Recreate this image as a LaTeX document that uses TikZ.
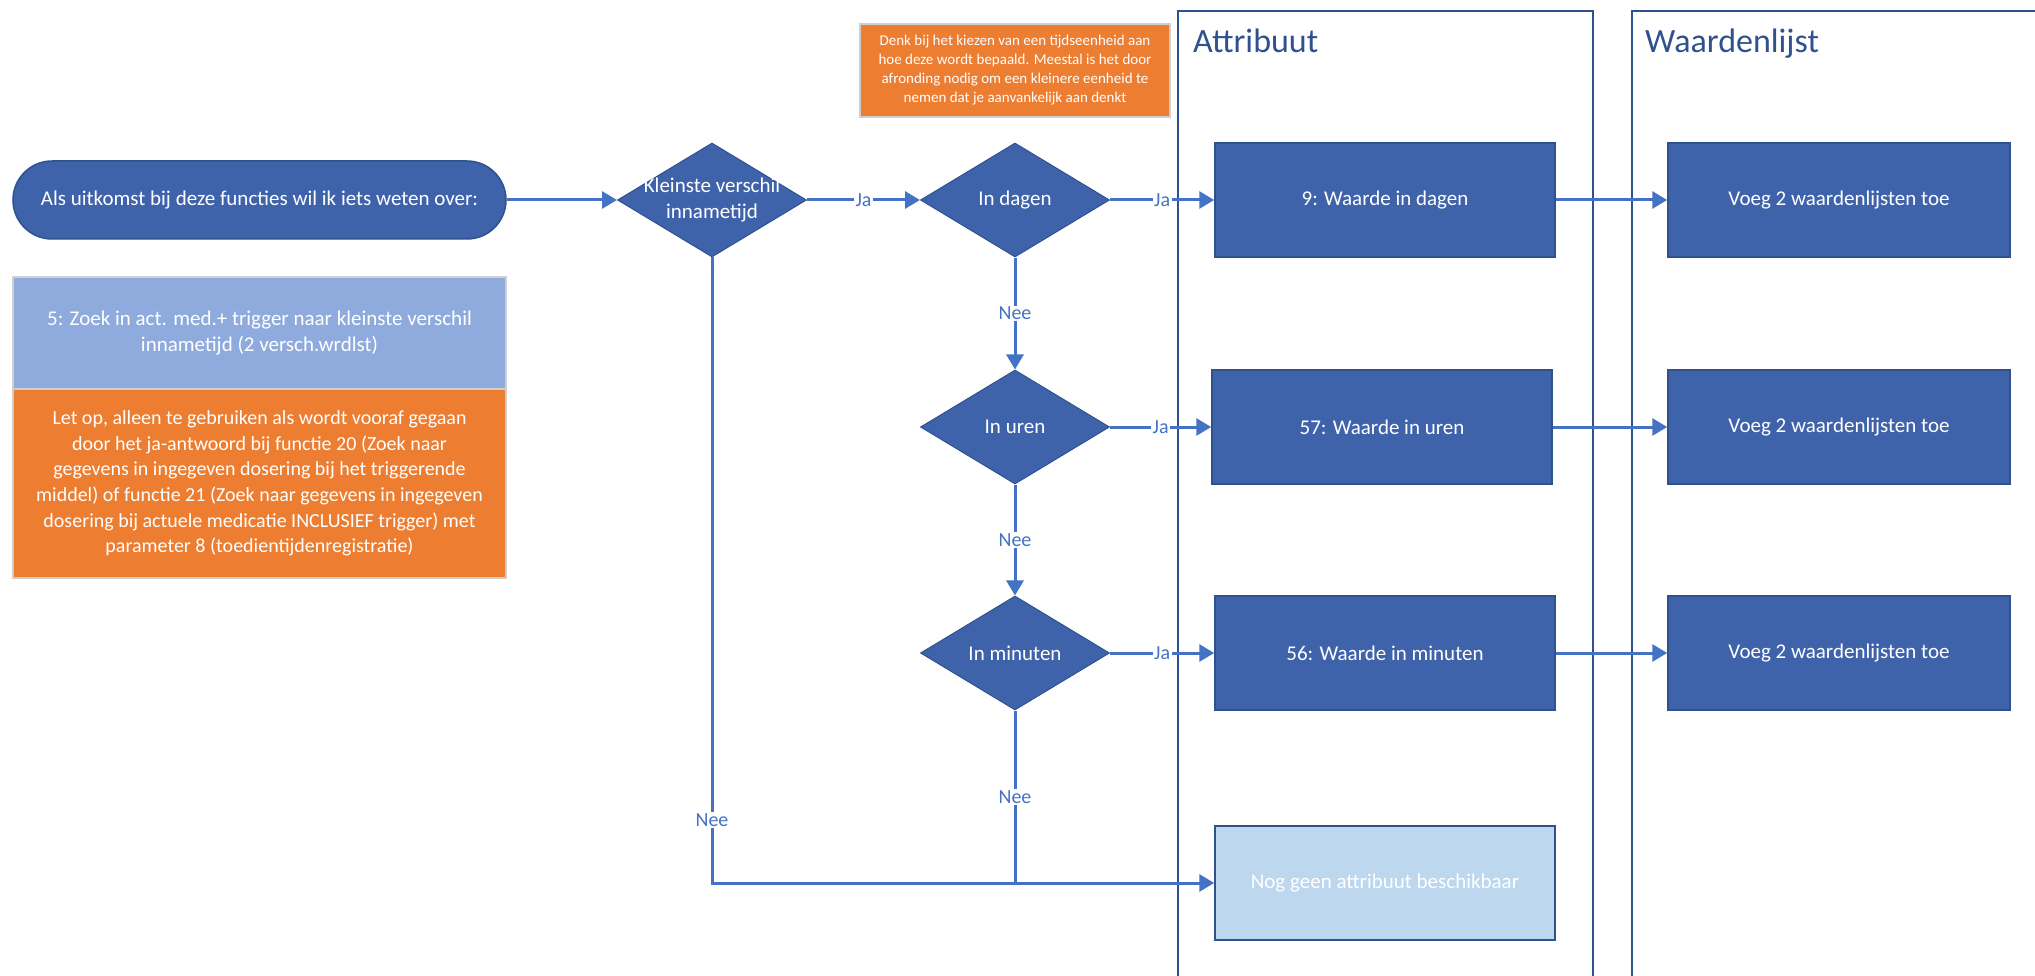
\documentclass[tikz,border=0pt]{standalone}
\usepackage{fontspec}
\setmainfont{Carlito}
\usetikzlibrary{shapes.geometric,arrows.meta}

\definecolor{boxblue}{HTML}{3F63AB}
\definecolor{edgeblue}{HTML}{2F528F}
\definecolor{linkblue}{HTML}{4472C4}
\definecolor{paleblue}{HTML}{8FAADC}
\definecolor{skyblue}{HTML}{BDD7EE}
\definecolor{noteorange}{HTML}{ED7D31}
\definecolor{notegray}{HTML}{CFCFCF}

\tikzset{
  txt/.style={font=\fontsize{21}{25.5}\selectfont},
  proc/.style={txt, rectangle, draw=edgeblue, line width=1.5pt, fill=boxblue, text=white,
    minimum width=340pt, minimum height=114pt, inner sep=0pt},
  dec/.style={txt, diamond, draw=edgeblue, line width=1pt, fill=boxblue, text=white,
    minimum width=189pt, minimum height=114pt, inner sep=0pt, aspect=1.66},
  note/.style={txt, rectangle, draw=notegray, line width=2.5pt, text=white, align=center,
    minimum width=493pt, inner sep=0pt},
  link/.style={draw=linkblue, line width=3pt},
  conn/.style={link, -{Triangle[length=15pt,width=17pt]}},
  lbl/.style={font=\fontsize{20}{24}\selectfont, text=linkblue, fill=white, inner sep=1.5pt},
  lane/.style={draw=edgeblue, line width=2pt, anchor=north west, minimum height=1000pt, inner sep=0pt},
  lanetitle/.style={font=\fontsize{34}{38}\selectfont, text=edgeblue, anchor=base west, inner sep=0pt},
}

\begin{document}
\begin{tikzpicture}[x=1pt,y=-1pt]
        \useasboundingbox (0,0) rectangle (2035,976);

        % Swimlanes
        \node[lane, minimum width=415pt] (attrlane) at (1177,10) {};
        \node[lane, minimum width=500pt] (wrdlane) at (1631,10) {};
        \node[lanetitle] (attrtitle) at (1193,53) {Attribuut};
        \node[lanetitle] (wrdtitle) at (1645,53) {Waardenlijst};

        % Left column
        \node[txt, draw=edgeblue, line width=1.5pt, fill=boxblue, text=white, rounded corners=39pt,
          minimum width=493pt, minimum height=78pt, inner sep=0pt] (start) at (259.5,200)
          {Als uitkomst bij deze functies wil ik iets weten over:};
        \node[note, fill=paleblue, minimum height=112pt] (func5) at (259.5,333)
          {5: Zoek in act. med.+ trigger naar kleinste verschil\\innametijd (2 versch.wrdlst)};
        \node[note, fill=noteorange, minimum height=189pt, font=\fontsize{20}{25.6}\selectfont] (letop) at (259.5,483.5)
          {Let op, alleen te gebruiken als wordt vooraf gegaan\\door het ja-antwoord bij functie 20 (Zoek naar\\gegevens in ingegeven dosering bij het triggerende\\middel) of functie 21 (Zoek naar gegevens in ingegeven\\dosering bij actuele medicatie INCLUSIEF trigger) met\\parameter 8 (toedientijdenregistratie)};

        % Tip on time units
        \node[note, fill=noteorange, minimum width=310pt, minimum height=93pt, font=\fontsize{15}{19}\selectfont] (tip) at (1015,70.5)
          {Denk bij het kiezen van een tijdseenheid aan\\hoe deze wordt bepaald. Meestal is het door\\afronding nodig om een kleinere eenheid te\\nemen dat je aanvankelijk aan denkt};

        % Decisions
        \node[dec, label={[txt, text=white, align=center]center:{Kleinste verschil\\innametijd}}] (d1) at (712,200) {};
        \node[dec] (dagen) at (1015,200) {In dagen};
        \node[dec] (uren) at (1015,427) {In uren};
        \node[dec] (minuten) at (1015,653) {In minuten};

        % Attributes
        \node[proc] (attr9) at (1385,200) {9: Waarde in dagen};
        \node[proc] (attr57) at (1382,427) {57: Waarde in uren};
        \node[proc] (attr56) at (1385,653) {56: Waarde in minuten};
        \node[proc, fill=skyblue] (none) at (1385,883) {Nog geen attribuut beschikbaar};

        % Value lists
        \node[proc, minimum width=342pt] (wl1) at (1839,200) {Voeg 2 waardenlijsten toe};
        \node[proc, minimum width=342pt] (wl2) at (1839,427) {Voeg 2 waardenlijsten toe};
        \node[proc, minimum width=342pt] (wl3) at (1839,653) {Voeg 2 waardenlijsten toe};

        \coordinate (join) at (minuten.south |- none.west);

        % Yes edges
        \draw[conn] (start) -- (d1);
        \draw[conn] (d1) -- node[lbl] {Ja} (dagen);
        \draw[conn] (dagen) -- node[lbl] {Ja} (attr9);
        \draw[conn] (uren) -- node[lbl] {Ja} (attr57);
        \draw[conn] (minuten) -- node[lbl] {Ja} (attr56);

        % No edges
        \draw[conn] (dagen) -- node[lbl] {Nee} (uren);
        \draw[conn] (uren) -- node[lbl] {Nee} (minuten);
        \draw[link] (minuten.south) -- node[lbl] {Nee} (join);
        \draw[conn] (d1.south) |- node[lbl, pos=0.45] {Nee} (none.west);

        % To value lists
        \draw[conn] (attr9) -- (wl1);
        \draw[conn] (attr57) -- (wl2);
        \draw[conn] (attr56) -- (wl3);

\end{tikzpicture}
\end{document}
